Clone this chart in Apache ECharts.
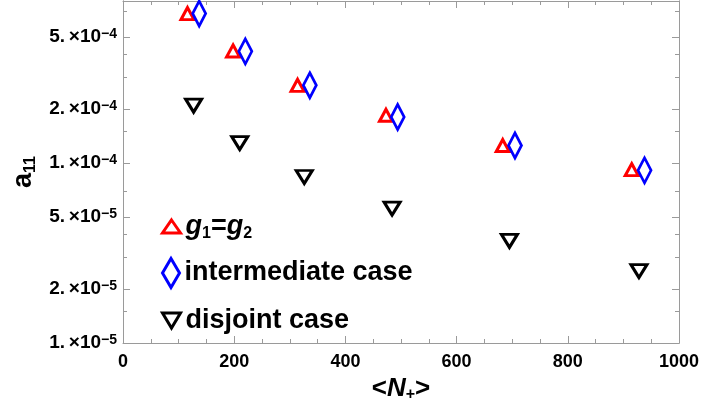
<!DOCTYPE html>
<html lang="en">
<head>
    <meta charset="UTF-8">
    <title>a11 vs N+</title>
    <script src="https://cdn.jsdelivr.net/npm/echarts@6/dist/echarts.min.js"></script>
    <style>
        html, body {margin: 0; padding: 0; background: #fff;}
        #main {width: 703px; height: 419px;}
    </style>
</head>
<body>
    <div id="main"></div>
    <script>
    // data
    var nRed = [116, 198, 314, 473, 683, 915];
    var aRed = [6.76e-4, 4.19e-4, 2.70e-4, 1.84e-4, 1.25e-4, 9.18e-5];
    var nBlue = [137, 220, 336, 494, 705, 938];
    var aBlue = [6.76e-4, 4.17e-4, 2.70e-4, 1.80e-4, 1.25e-4, 9.1e-5];
    var nBlack = [127, 210, 326, 484, 695, 928];
    var aBlack = [2.08e-4, 1.29e-4, 8.36e-5, 5.58e-5, 3.69e-5, 2.51e-5];
    var yMajor = [1e-5, 2e-5, 5e-5, 1e-4, 2e-4, 5e-4];
    var yMinor = [1.5e-5, 3e-5, 4e-5, 7e-5, 1.5e-4, 3e-4, 4e-4, 7e-4];
    var names = ['g1=g2', 'intermediate case', 'disjoint case'];

    var myChart = echarts.init(document.getElementById('main'));
    var font = 'Liberation Sans, Arial, sans-serif';
    var gray = '#9a9a9a';

    function pairs(xs, ys) {
        return xs.map(function (x, i) { return [x, ys[i]]; });
    }

    function yLabel(v) {
        var e = Math.floor(Math.log10(v) + 1e-9);
        var m = Math.round(v / Math.pow(10, e));
        return '{b|' + m + '.\u2009\u00d710}{sup|\u2212' + Math.abs(e) + '}';
    }

    function yAxisOf(pos, ticks, len, withLabel) {
        var ax = {
            type: 'log', min: 1e-5, max: 7.94e-4, position: pos,
            axisLine: {show: true, lineStyle: {color: gray, width: 1}},
            axisTick: {show: true, inside: true, length: len, customValues: ticks, lineStyle: {color: gray}},
            splitLine: {show: false},
            minorTick: {show: false},
            axisLabel: {show: false}
        };
        if (withLabel) {
            ax.axisLabel = {
                show: true, customValues: ticks, margin: 6,
                formatter: yLabel,
                rich: {
                    b: {fontSize: 19, fontWeight: 'bold', color: '#000', fontFamily: font, lineHeight: 20},
                    sup: {fontSize: 14, fontWeight: 'bold', color: '#000', fontFamily: font, lineHeight: 13, verticalAlign: 'top'}
                }
            };
            ax.name = '{a|a}{s|11}';
            ax.nameLocation = 'middle';
            ax.nameGap = 77;
            ax.nameTextStyle = {
                rich: {
                    a: {fontSize: 27, fontWeight: 'bold', color: '#000', fontFamily: font, lineHeight: 30},
                    s: {fontSize: 16, fontWeight: 'bold', color: '#000', fontFamily: font, lineHeight: 14, verticalAlign: 'bottom'}
                }
            };
        }
        return ax;
    }

    function xAxisOf(pos, withLabel) {
        var ax = {
            type: 'value', min: 0, max: 1000, interval: 200, position: pos,
            axisLine: {show: true, lineStyle: {color: gray, width: 1}},
            axisTick: {show: true, inside: true, length: 7, lineStyle: {color: gray}},
            minorTick: {show: true, splitNumber: 4, length: 4, lineStyle: {color: gray}},
            splitLine: {show: false},
            axisLabel: {show: false}
        };
        if (withLabel) {
            ax.axisLabel = {
                show: true, margin: 10, fontSize: 18, fontWeight: 'bold', color: '#000', fontFamily: font,
                formatter: function (v) { return String(v); }
            };
            ax.name = '{t|<}{n|N}{s|+}{t|>}';
            ax.nameLocation = 'middle';
            ax.nameGap = 31;
            ax.nameTextStyle = {
                rich: {
                    t: {fontSize: 26, fontWeight: 'bold', color: '#000', fontFamily: font, lineHeight: 28},
                    n: {fontSize: 26, fontWeight: 'bold', fontStyle: 'italic', color: '#000', fontFamily: font, lineHeight: 28},
                    s: {fontSize: 16, fontWeight: 'bold', color: '#000', fontFamily: font, lineHeight: 12, verticalAlign: 'bottom'}
                }
            };
        }
        return ax;
    }

    var legendRich = {
        g: {fontSize: 27, fontWeight: 'bold', fontStyle: 'italic', color: '#000', fontFamily: font, lineHeight: 30},
        e: {fontSize: 27, fontWeight: 'bold', color: '#000', fontFamily: font, lineHeight: 30},
        s: {fontSize: 16, fontWeight: 'bold', color: '#000', fontFamily: font, lineHeight: 14, verticalAlign: 'bottom'}
    };

    function legendOf(name, top, w, h, color, bw, icon) {
        var lg = {
            data: [name], left: 161, top: top, orient: 'vertical',
            itemWidth: w, itemHeight: h, itemGap: 0, padding: 0,
            symbolKeepAspect: false, selectedMode: false,
            itemStyle: {color: '#fff', borderColor: color, borderWidth: bw},
            textStyle: {fontSize: 27, fontWeight: 'bold', color: '#000', fontFamily: font, rich: legendRich},
            formatter: function (n) {
                if (n === 'g1=g2') return '{g|g}{s|1}{e|=}{g|g}{s|2}';
                return '{e|' + n + '}';
            }
        };
        if (icon) lg.icon = icon;
        return lg;
    }

    var option = {
        animation: false,
        backgroundColor: '#fff',
        grid: {left: 123, right: 24, top: 1, bottom: 76},
        xAxis: [xAxisOf('bottom', true), xAxisOf('top', false)],
        yAxis: [
            yAxisOf('left', yMajor, 7, true),
            yAxisOf('left', yMinor, 4, false),
            yAxisOf('right', yMajor, 7, false),
            yAxisOf('right', yMinor, 4, false)
        ],
        legend: [
            legendOf(names[0], 213, 18, 13, '#ff0000', 3),
            legendOf(names[1], 257, 17, 29, '#0000ff', 3),
            legendOf(names[2], 307, 18, 15, '#000000', 3, 'path://M0,0 L10,0 L5,9 Z')
        ],
        series: [
            {
                name: names[0], type: 'scatter', symbol: 'triangle', symbolSize: [13, 12],
                itemStyle: {color: '#fff', borderColor: '#ff0000', borderWidth: 3, opacity: 1},
                data: pairs(nRed, aRed), z: 2
            },
            {
                name: names[1], type: 'scatter', symbol: 'diamond', symbolSize: [13, 25],
                itemStyle: {color: 'rgba(255,255,255,0)', borderColor: '#0000ff', borderWidth: 3, opacity: 1},
                data: pairs(nBlue, aBlue), z: 3
            },
            {
                name: names[2], type: 'scatter', symbol: 'triangle', symbolRotate: 180, symbolSize: [16, 13],
                itemStyle: {color: '#fff', borderColor: '#000000', borderWidth: 3, opacity: 1},
                data: pairs(nBlack, aBlack), z: 2
            }
        ]
    };
    myChart.setOption(option);
    </script>
</body>
</html>
